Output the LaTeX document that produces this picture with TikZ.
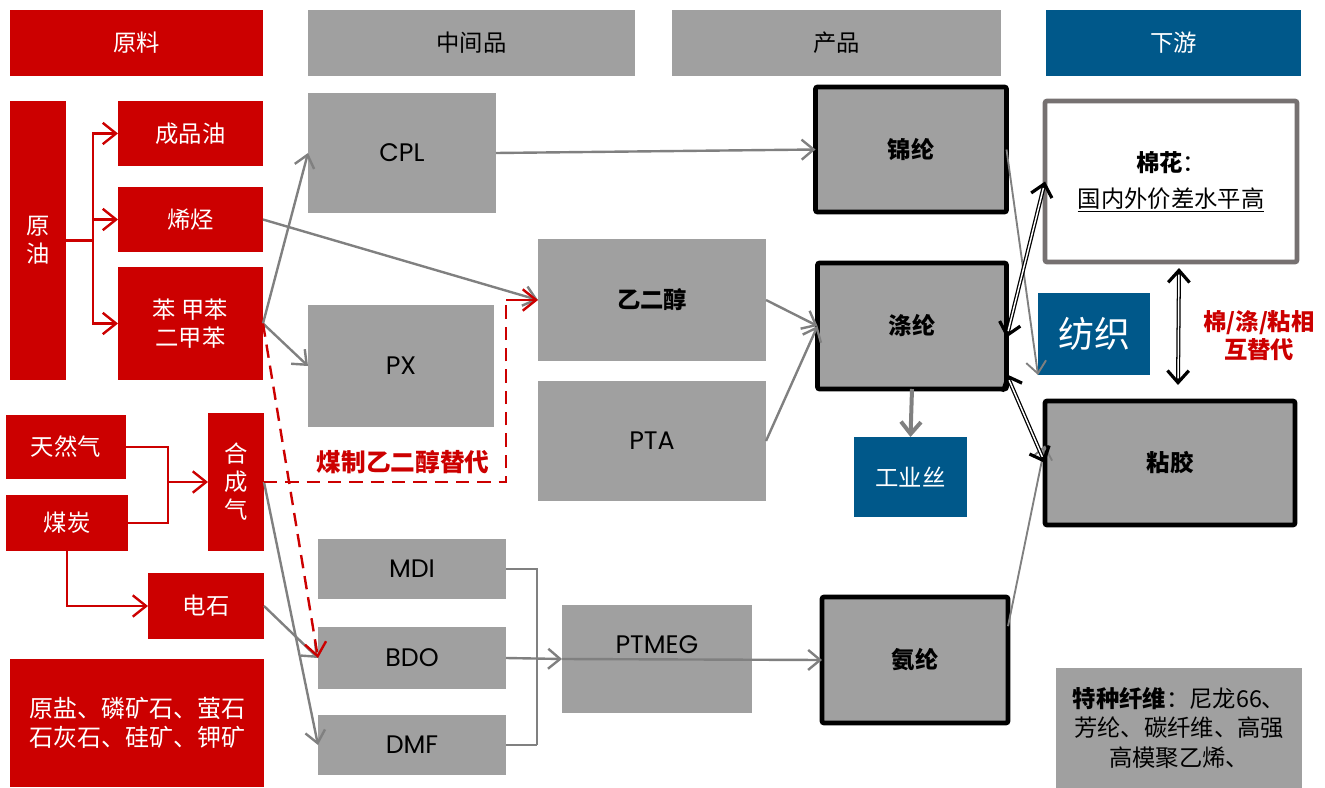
\documentclass[tikz,border=0pt]{standalone}
\usepackage{fontspec}
\setmainfont{Noto Sans CJK SC}
\newfontfamily\latinfont{Poppins}
\usetikzlibrary{arrows.meta, positioning}

\definecolor{rawred}{RGB}{204,0,0}
\definecolor{boxgray}{RGB}{160,160,160}
\definecolor{linegray}{RGB}{128,128,128}
\definecolor{downblue}{RGB}{0,88,138}
\definecolor{framegray}{RGB}{118,113,113}

\newcommand{\fsz}{\fontsize{17.5}{21}\selectfont}

\tikzset{
    box/.style 2 args={rectangle, inner sep=0pt, outer sep=0pt, align=center,
        minimum width=#1*0.75pt, minimum height=#2*0.75pt, font=\fsz}
}

\begin{document}
\begin{tikzpicture}[
    x=0.75pt, y=-0.75pt,
    raw/.style={fill=rawred, text=white},
    mid/.style={fill=boxgray, text=black},
    chem/.style={mid, font=\fontsize{19}{22}\selectfont\latinfont},
    prod/.style={fill=boxgray, draw=black, line width=3.5pt, rounded corners=1.5pt, font=\fsz\bfseries},
    down/.style={fill=downblue, text=white},
    gline/.style={draw=linegray, line width=1.8pt},
    garrow/.style={gline, -{Straight Barb[length=9pt, width=15pt]}},
    rline/.style={draw=rawred, line width=1.8pt},
    rarrow/.style={rline, -{Straight Barb[length=10pt, width=16pt]}},
    rdash/.style={rline, dash pattern=on 10pt off 6pt},
    swap/.style={draw=black, line width=3pt,
        {Straight Barb[length=9pt, width=16pt, line width=2.4pt]}-{Straight Barb[length=9pt, width=16pt, line width=2.4pt]},
        postaction={draw=white, line width=1.1pt, -, shorten <=5pt, shorten >=5pt}}
]
\useasboundingbox (0,0) rectangle (1325,788);

% header row
\node[box={253}{66}, raw] (hRaw) at (136.5,43) {原料};
\node[box={327}{66}, mid] (hMid) at (471.5,43) {中间品};
\node[box={329}{66}, mid] (hProd) at (836.5,43) {产品};
\node[box={255}{66}, down] (hDown) at (1173.5,43) {下游};

% raw materials
\node[box={56}{279}, raw] (crude) at (38,240.5) {原\\油};
\node[box={145}{65}, raw] (refined) at (190.5,133.5) {成品油};
\node[box={145}{65}, raw] (olefin) at (190.5,219.5) {烯烃};
\node[box={145}{113}, raw] (bzx) at (190.5,323.5) {苯 甲苯\\二甲苯};
\node[box={120}{64}, raw] (gas) at (66,447) {天然气};
\node[box={122}{56}, raw] (coal) at (67,523) {煤炭};
\node[box={56}{138}, raw] (syn) at (236,482) {合\\成\\气};
\node[box={116}{66}, raw] (carbide) at (206,606) {电石};
\node[box={254}{128}, raw, font=\fontsize{18}{22}\selectfont] (mineral) at (137,723) {原盐、磷矿石、萤石\\石灰石、硅矿、钾矿};

% intermediates
\node[box={188}{120}, chem] (cpl) at (402,153) {CPL};
\node[box={186}{122}, chem] (px) at (401,366) {PX};
\node[box={228}{122}, mid, font=\fsz\bfseries] (glycol) at (652,300) {乙二醇};
\node[box={228}{120}, chem] (pta) at (652,441) {PTA};
\node[box={188}{60}, chem] (mdi) at (412,569) {MDI};
\node[box={188}{62}, chem] (bdo) at (412,658) {BDO};
\node[box={188}{60}, chem] (dmf) at (412,745) {DMF};
\node[box={190}{108}, chem] (ptmeg) at (657,659) {PTMEG\\ \mbox{}};

% products
\node[box={191}{125}, prod] (nylon) at (911,149.5) {锦纶};
\node[box={189}{126}, prod] (poly) at (912,326) {涤纶};
\node[box={186}{126}, prod] (spandex) at (915,660) {氨纶};
\node[box={113}{80}, down] (yarn) at (910.5,477) {工业丝};

% downstream
\node[box={252}{161}, fill=white, draw=framegray, line width=3.5pt, rounded corners=1.5pt] (cotton) at (1171,181.5) {\textbf{棉花}：\\[6pt]\underline{国内外价差水平高}};
\node[box={112}{82}, down, font=\fontsize{27}{30}\selectfont] (textile) at (1094,334) {纺织};
\node[box={250}{124}, prod] (viscose) at (1170,463) {粘胶};
\node[box={246}{120}, mid, font=\fontsize{17.5}{22}\selectfont] (special) at (1179,728) {\textbf{特种纤维}：尼龙66、\\芳纶、碳纤维、高强\\高模聚乙烯、};
\node[font=\fsz\bfseries, text=rawred, align=center] (subst) at (1259,336) {棉/涤/粘相\\互替代};
\node[font=\fontsize{18.5}{22}\selectfont\bfseries, text=rawred] (coalEG) at (403,462) {煤制乙二醇替代};

% crude oil branches
\coordinate (fork) at (93,240.5);
\draw[rline] (crude.east) -- (fork);
\draw[rarrow] (fork) |- (refined.west);
\draw[rarrow] (fork) |- (olefin.west);
\draw[rarrow] (fork) |- (bzx.west);

% gas and coal to syngas, coal to carbide
\coordinate (gj) at (168,482);
\draw[rline] (gas.east) -| (gj);
\draw[rline] (coal.east) -| (gj);
\draw[rarrow] (gj) -- (syn.west);
\draw[rarrow] (coal.south) |- (carbide.west);

% raw materials to intermediates
\draw[garrow] (bzx.east) -- (cpl.west);
\draw[garrow] (olefin.east) -- (glycol.west);
\draw[garrow] (bzx.east) -- (px.west);
\draw[garrow] (syn.east) -- (dmf.west);
\draw[garrow] (carbide.east) -- (bdo.west);

% coal based glycol
\coordinate (egk) at (506,300);
\draw[rdash] (syn.east) -| (egk);
\draw[rarrow] (egk) -- (glycol.west);
\draw[rdash, -{Straight Barb[length=10pt, width=16pt]}] (bzx.east) -- (bdo.west);

% intermediates to products
\coordinate (bkt) at (537,745);
\draw[gline] (mdi.east) -| (bkt);
\draw[gline] (dmf.east) -- (bkt);
\draw[garrow] (bdo.east) -- (ptmeg.west);
\draw[garrow] (ptmeg.west) -- (spandex.west);
\draw[garrow] (cpl.east) -- (nylon.west);
\draw[garrow] (glycol.east) -- (poly.west);
\draw[garrow] (pta.east) -- (poly.west);
\draw[garrow, line width=3pt] (poly.south) -- (yarn.north);

% products to downstream
\draw[garrow, line width=1.4pt] (nylon.east) -- (textile.south west);
\draw[garrow, line width=1.4pt] (spandex.20) -- (viscose.172);
\draw[swap] (poly.-7) -- (cotton.west);
\draw[swap] (poly.-27) -- (viscose.west);
\draw[swap] ([xshift=6pt, yshift=-4.5pt]cotton.south) -- ([xshift=6pt, yshift=12pt]viscose.north);

\end{tikzpicture}
\end{document}
